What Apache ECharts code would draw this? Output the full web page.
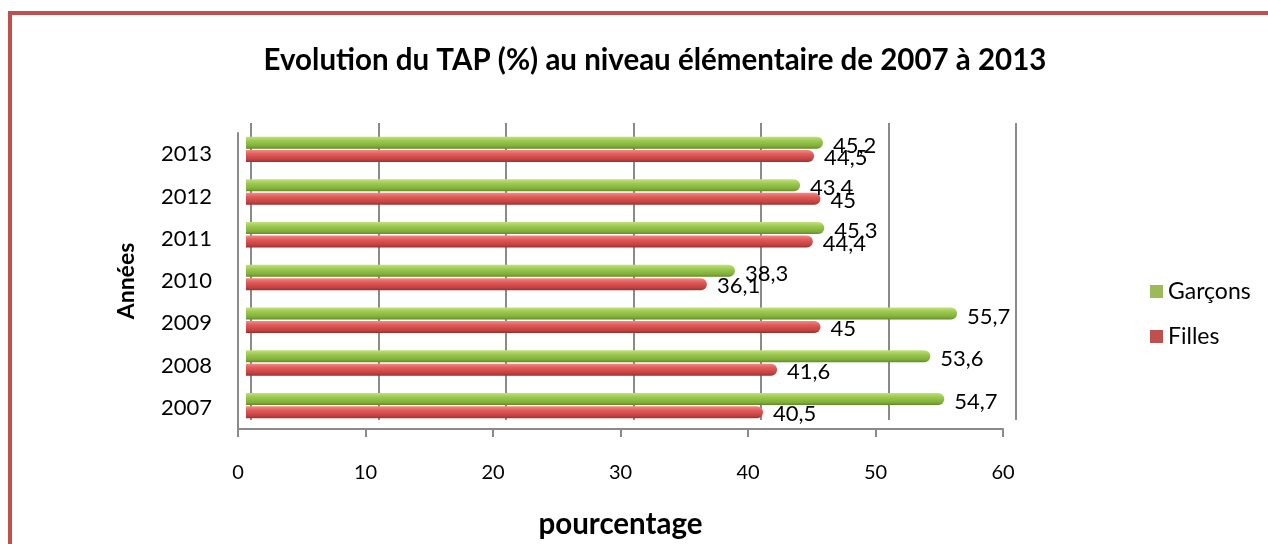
<!DOCTYPE html>
<html>
<head>
<meta charset="utf-8">
<script src="https://cdn.jsdelivr.net/npm/echarts@6/dist/echarts.min.js"></script>
<style>
html,body{margin:0;padding:0;background:#fff;overflow:hidden;}
#frame{position:absolute;left:8px;top:11px;width:1400px;height:700px;border-left:4px solid #C0504D;border-top:4px solid #C0504D;box-sizing:border-box;}
#chart{position:absolute;left:0;top:0;width:1268px;height:544px;}
</style>
</head>
<body>
<div id="frame"></div>
<div id="chart"></div>
<script>
const categories = ['2007','2008','2009','2010','2011','2012','2013'];
const garcons = [54.7, 53.6, 55.7, 38.3, 45.3, 43.4, 45.2];
const filles = [40.5, 41.6, 45, 36.1, 44.4, 45, 44.5];
const xTicks = [0, 10, 20, 30, 40, 50, 60];

const FONT = 'Lato';
const fmt = p => String(p.value).replace('.', ',');

const greenGrad = new echarts.graphic.LinearGradient(0,0,0,1,[
  {offset:0,color:'#c3e07e'},{offset:0.35,color:'#9cc94f'},{offset:0.8,color:'#7fae38'},{offset:1,color:'#5f8a26'}]);
const redGrad = new echarts.graphic.LinearGradient(0,0,0,1,[
  {offset:0,color:'#f08a88'},{offset:0.35,color:'#e05a58'},{offset:0.8,color:'#c2403e'},{offset:1,color:'#963030'}]);

const chart = echarts.init(document.getElementById('chart'), null, {renderer:'canvas'});
chart.setOption({
  backgroundColor: 'transparent',
  animation: false,
  textStyle: {fontFamily: FONT},
  title: {
    text: 'Evolution du TAP (%) au niveau élémentaire de 2007 à 2013',
    left: 650, textAlign: 'center', top: 40,
    textStyle: {fontFamily: FONT, fontWeight: 'bold', fontSize: 29.5, color: '#000'}
  },
  legend: {
    orient: 'vertical', left: 1145, top: 275,
    itemWidth: 13, itemHeight: 13, itemGap: 22,
    icon: 'rect',
    data: [
      {name: 'Garçons', itemStyle: {color: '#9BBB59'}},
      {name: 'Filles', itemStyle: {color: '#C0504D'}}
    ],
    textStyle: {fontFamily: FONT, fontSize: 23, color: '#000'}
  },
  grid: [
    {left: 251, right: 252, top: 123, bottom: 124},
    {left: 246, right: 256, top: 128, bottom: 117},
    {left: 238, right: 265, top: 133, bottom: 112}
  ],
  xAxis: [
    {gridIndex: 0, type: 'value', min: 0, max: 60, interval: 10,
     axisLine: {show: false}, axisTick: {show: false}, axisLabel: {show: false},
     splitLine: {show: true, lineStyle: {color: '#8a8a8a', width: 2}}},
    {gridIndex: 1, type: 'value', min: 0, max: 60, interval: 10, show: false, splitLine:{show:false}},
    {gridIndex: 2, type: 'value', min: xTicks[0], max: xTicks[xTicks.length-1], interval: 10,
     axisLine: {show: true, lineStyle: {color: '#8a8a8a', width: 2}},
     axisTick: {show: true, length: 8, lineStyle: {color: '#8a8a8a', width: 2}},
     axisLabel: {show: true, margin: 34, fontSize: 20, color: '#000', fontFamily: FONT},
     splitLine: {show: false},
     name: 'pourcentage', nameLocation: 'middle', nameGap: 80,
     nameTextStyle: {fontFamily: FONT, fontWeight: 'bold', fontSize: 29.5, color: '#000'}}
  ],
  yAxis: [
    {gridIndex: 0, type: 'category', data: categories, show: false},
    {gridIndex: 1, type: 'category', data: categories, show: false},
    {gridIndex: 2, type: 'category', data: categories,
     axisLine: {show: true, lineStyle: {color: '#8a8a8a', width: 2}},
     axisTick: {show: false},
     axisLabel: {margin: 26, fontSize: 22, color: '#000', fontFamily: FONT},
     name: 'Années', nameLocation: 'middle', nameGap: 100,
     nameTextStyle: {fontFamily: FONT, fontWeight: 'bold', fontSize: 23, color: '#000'}}
  ],
  series: [
    {name: 'Garçons', type: 'bar', xAxisIndex: 1, yAxisIndex: 1, data: garcons,
     barWidth: 12, barGap: '12%',
     itemStyle: {color: greenGrad, borderRadius: [0,6,6,0]},
     label: {show: true, position: 'right', distance: 10, offset: [0, 3], formatter: fmt,
             fontSize: 22, color: '#000', fontFamily: FONT}},
    {name: 'Filles', type: 'bar', xAxisIndex: 1, yAxisIndex: 1, data: filles,
     barWidth: 12, barGap: '12%',
     itemStyle: {color: redGrad, borderRadius: [0,6,6,0]},
     label: {show: true, position: 'right', distance: 10, offset: [0, 2], formatter: fmt,
             fontSize: 22, color: '#000', fontFamily: FONT}}
  ],
  color: ['#9BBB59', '#C0504D']
});
</script>
</body>
</html>
